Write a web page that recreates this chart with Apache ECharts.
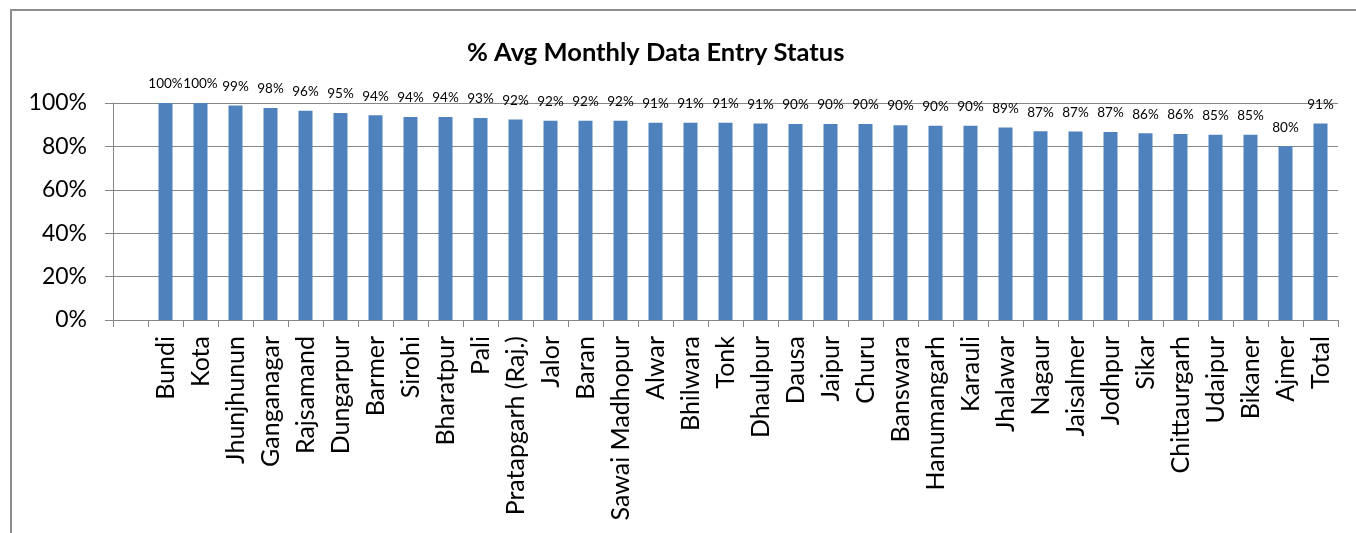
<!DOCTYPE html>
<html>
<head>
<meta charset="utf-8">
<script src="https://cdn.jsdelivr.net/npm/echarts@6/dist/echarts.min.js"></script>
<style>
  html, body { margin: 0; padding: 0; background: #fff; }
  #chart_1 { width: 1356px; height: 533px; }
</style>
</head>
<body>
<div id="chart_1"></div>
<script>
// first slot is empty in the source chart
var districts = ['', 'Bundi', 'Kota', 'Jhunjhunun', 'Ganganagar', 'Rajsamand', 'Dungarpur', 'Barmer', 'Sirohi',
    'Bharatpur', 'Pali', 'Pratapgarh (Raj.)', 'Jalor', 'Baran', 'Sawai Madhopur', 'Alwar', 'Bhilwara',
    'Tonk', 'Dhaulpur', 'Dausa', 'Jaipur', 'Churu', 'Banswara', 'Hanumangarh', 'Karauli', 'Jhalawar',
    'Nagaur', 'Jaisalmer', 'Jodhpur', 'Sikar', 'Chittaurgarh', 'Udaipur', 'Bikaner', 'Ajmer', 'Total'];
var entryPct = [null, 100, 100, 98.9, 97.7, 96.4, 95.4, 94.3, 93.5,
    93.5, 93.1, 92.4, 91.8, 91.8, 91.8, 90.9, 90.9,
    90.9, 90.6, 90.3, 90.3, 90.3, 89.8, 89.5, 89.5, 88.7,
    87.0, 86.9, 86.6, 86.1, 85.7, 85.4, 85.4, 80.1, 90.6];
var yTicks = [0, 20, 40, 60, 80, 100];

var font = 'Lato';
var gray = '#868686';

var myChart = echarts.init(document.getElementById('chart_1'));
myChart.setOption({
    animation: false,
    textStyle: { fontFamily: font },
    graphic: [{
        type: 'rect',
        shape: { x: 11, y: 10, width: 1400, height: 600 },
        style: { fill: 'none', stroke: '#8c8c8c', lineWidth: 2 }
    }],
    title: {
        text: '% Avg Monthly Data Entry Status',
        left: 462, top: 35,
        textStyle: { fontFamily: font, fontSize: 25.5, fontWeight: 'bold', color: '#000' }
    },
    grid: { left: 113, right: 18, top: 103, bottom: 213 },
    xAxis: {
        type: 'category',
        data: districts,
        axisLine: { lineStyle: { color: gray, width: 1 } },
        axisTick: { show: true, length: 7, lineStyle: { color: gray } },
        axisLabel: {
            rotate: 90, interval: 0, margin: 16,
            fontFamily: font, fontSize: 25, color: '#000'
        }
    },
    yAxis: {
        type: 'value',
        min: yTicks[0], max: yTicks[yTicks.length - 1], interval: 20,
        axisLine: { show: true, lineStyle: { color: gray, width: 1 } },
        axisTick: { show: true, length: 8, lineStyle: { color: gray } },
        splitLine: { show: true, lineStyle: { color: gray, width: 1 } },
        axisLabel: {
            margin: 26, fontFamily: font, fontSize: 23, color: '#000',
            formatter: function (v) { return v + '%'; }
        }
    },
    series: [{
        type: 'bar',
        data: entryPct,
        barWidth: 14,
        itemStyle: { color: '#4F81BD' },
        label: {
            show: true, position: 'top', distance: 12,
            fontFamily: font, fontSize: 13.5, color: '#000',
            formatter: function (p) { return Math.round(p.value) + '%'; }
        }
    }]
});
</script>
</body>
</html>
